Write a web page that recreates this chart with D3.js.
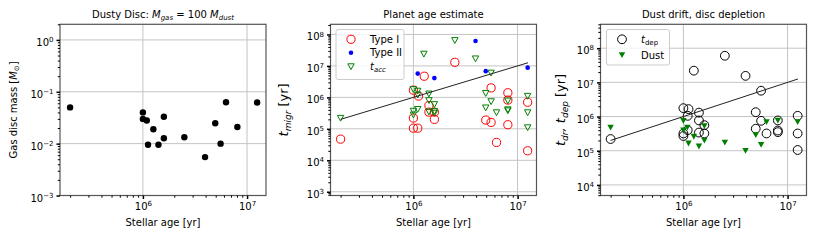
<!DOCTYPE html>
<html>
<head>
<meta charset="utf-8">
<script src="https://cdn.jsdelivr.net/npm/d3@7"></script>
<style>
  body { margin: 0; background: #fff; }
  svg { font-family: "DejaVu Sans", sans-serif; }
</style>
</head>
<body>
<div id="chart"></div>
<script>
// ages of the stars (yr), one per host
var starAge = [2e5, 1e6, 1e6, 1.09e6, 1.12e6, 1.26e6, 1.41e6, 1.59e6, 1.59e6, 2.5e6, 3.95e6, 4.95e6, 5.57e6, 6.28e6, 8.07e6, 1.25e7];
var gasMass = [0.05, 0.04, 0.03, 0.028, 0.0095, 0.019, 0.0095, 0.033, 0.0127, 0.0133, 0.0055, 0.0248, 0.01, 0.063, 0.021, 0.062];

// migration time scales (panel 2)
var typeIAge = [2e5, 1e6, 1e6, 1e6, 1.12e6, 1.1e6, 1.27e6, 1.41e6, 1.41e6, 1.59e6, 1.59e6, 2.5e6, 4.95e6, 5.57e6, 5.57e6, 6.28e6, 8.07e6, 8.07e6, 8.07e6, 1.25e7, 1.25e7];
var typeI = [4.7e4, 1.7e6, 2.2e5, 1.05e5, 1.1e6, 1.05e5, 4.7e6, 5.5e5, 3.4e5, 3.4e5, 2e5, 1.3e7, 1.9e5, 2e6, 1.6e5, 3.7e4, 1.4e6, 8.2e5, 1.35e5, 7e5, 2e4];
var typeIIAge = [1.1e6, 1.59e6, 3.95e6, 4.95e6, 1.25e7];
var typeII = [5.7e6, 4.1e6, 6.2e7, 6.8e6, 8.8e6];
var tAccAge = [2e5, 1e6, 1e6, 1e6, 1.1e6, 1.1e6, 1.1e6, 1.26e6, 1.41e6, 1.41e6, 1.41e6, 1.59e6, 1.59e6, 1.59e6, 2.5e6, 3.95e6, 4.95e6, 4.95e6, 5.57e6, 5.57e6, 6.28e6, 8.07e6, 8.07e6, 8.07e6, 1.25e7, 1.25e7, 1.25e7];
var tAcc = [2.2e5, 1.8e6, 3.7e5, 2.8e5, 1.6e6, 1.2e6, 4.2e5, 2.4e7, 1.3e6, 8e5, 3.5e5, 6e5, 3.6e5, 3.2e5, 6.5e7, 1.7e7, 1.35e6, 4.7e5, 6e6, 7.4e5, 3.3e5, 7.8e5, 4.1e5, 3.8e5, 1.1e6, 3.3e5, 1.1e5];

// depletion and dust drift (panel 3)
var tDepAge = [2e5, 1e6, 1e6, 1e6, 1.12e6, 1.1e6, 1.1e6, 1.26e6, 1.41e6, 1.41e6, 1.41e6, 1.59e6, 1.59e6, 2.5e6, 3.95e6, 4.95e6, 4.95e6, 5.57e6, 5.57e6, 6.28e6, 8.07e6, 8.07e6, 8.07e6, 1.25e7, 1.25e7, 1.25e7];
var tDep = [2.2e5, 1.76e6, 3.2e5, 2.7e5, 1.65e6, 1.05e6, 4e5, 2.2e7, 1.3e6, 7.7e5, 3.4e5, 5.6e5, 3.2e5, 6e7, 1.55e7, 1.34e6, 4.4e5, 5.7e6, 7.5e5, 3.2e5, 7.7e5, 3.9e5, 3.5e5, 1.05e6, 3.2e5, 1.05e5];
var dustDrift = [4.8e5, 7.5e5, 4e5, 4.8e5, 1.65e5, 2.6e5, 1.35e5, 5.3e5, 2e5, 1.75e5, 1e5, 2.9e5, 1.5e5, 7e5, 7.7e5, 7e5];

// one-to-one line
var oneToOne = [2e5, 1.26e7];

var xTicks = [1e6, 1e7];
var yTicks1 = [-3, -2, -1, 0];
var yTicks2 = [3, 4, 5, 6, 7, 8];
var yTicks3 = [4, 5, 6, 7, 8];

var width = 822, height = 240;
var top_y = 24.3, bottom_y = 195.5, pw = 206;

var svg = d3.select("#chart").append("svg")
    .attr("width", width)
    .attr("height", height);

var triDown = "M-3.2,-2.7L3.2,-2.7L0,3.1Z";

function minorTicks(domain) {
    var out = [];
    var lo = Math.floor(Math.log10(domain[0])), hi = Math.ceil(Math.log10(domain[1]));
    for (var e = lo; e <= hi; e++) {
        for (var k = 2; k <= 9; k++) {
            var v = k * Math.pow(10, e);
            if (v >= domain[0] && v <= domain[1]) out.push(v);
        }
    }
    return out;
}

function supLabels(sel) {
    sel.selectAll(".tick text").each(function(d) {
        var t = d3.select(this);
        var e = Math.round(Math.log10(d));
        t.text(null);
        t.append("tspan").text("10");
        t.append("tspan").attr("dy", "-0.55em").attr("font-size", "7px")
            .text(e < 0 ? "\u2212" + (-e) : e);
    });
}

function makePanel(left, yDomain, yTickExp) {
    var g = svg.append("g");
    var x = d3.scaleLog().domain([1.6e5, 1.52e7]).range([left, left + pw]);
    var y = d3.scaleLog().domain(yDomain).range([bottom_y, top_y]);
    var yTickVals = yTickExp.map(function(e) { return Math.pow(10, e); });

    // grid
    g.append("g").selectAll("line.gx").data(xTicks).join("line")
        .attr("x1", x).attr("x2", x).attr("y1", top_y).attr("y2", bottom_y)
        .attr("stroke", "#c4c4c4").attr("stroke-width", 1);
    g.append("g").selectAll("line.gy").data(yTickVals).join("line")
        .attr("x1", left).attr("x2", left + pw).attr("y1", y).attr("y2", y)
        .attr("stroke", "#c4c4c4").attr("stroke-width", 1);

    // frame
    g.append("rect")
        .attr("x", left).attr("y", top_y).attr("width", pw).attr("height", bottom_y - top_y)
        .attr("fill", "none").attr("stroke", "#555").attr("stroke-width", 1.2);

    // minor ticks
    g.append("g").attr("transform", "translate(0," + bottom_y + ")")
        .call(d3.axisBottom(x).tickValues(minorTicks(x.domain())).tickSize(2.2).tickFormat(""))
        .call(function(a) { a.select(".domain").remove(); a.selectAll("line").attr("stroke-width", 1); });
    g.append("g").attr("transform", "translate(" + left + ",0)")
        .call(d3.axisLeft(y).tickValues(minorTicks(y.domain())).tickSize(2.2).tickFormat(""))
        .call(function(a) { a.select(".domain").remove(); a.selectAll("line").attr("stroke-width", 1); });

    // major ticks
    g.append("g").attr("transform", "translate(0," + bottom_y + ")")
        .call(d3.axisBottom(x).tickValues(xTicks).tickSize(3.5).tickPadding(4))
        .call(function(a) {
            a.select(".domain").remove();
            a.selectAll("line").attr("stroke-width", 1.5);
            a.selectAll("text").attr("font-size", "10px").attr("fill", "#000")
                .attr("font-family", "DejaVu Sans");
        })
        .call(supLabels);
    g.append("g").attr("transform", "translate(" + left + ",0)")
        .call(d3.axisLeft(y).tickValues(yTickVals).tickSize(3.5).tickPadding(3))
        .call(function(a) {
            a.select(".domain").remove();
            a.selectAll("line").attr("stroke-width", 1.5);
            a.selectAll("text").attr("font-size", "10px").attr("fill", "#000")
                .attr("font-family", "DejaVu Sans").attr("dy", "0.55em");
        })
        .call(supLabels);

    // x label
    g.append("text")
        .attr("x", left + pw / 2).attr("y", 226)
        .attr("text-anchor", "middle").attr("font-size", "10px")
        .text("Stellar age [yr]");

    return { g: g, x: x, y: y, left: left };
}

// ---------- panel 1 ----------
var p1 = makePanel(60, [1e-3, 2], yTicks1);
p1.g.append("g").selectAll("circle").data(starAge).join("circle")
    .attr("cx", function(d) { return p1.x(d); })
    .attr("cy", function(d, i) { return p1.y(gasMass[i]); })
    .attr("r", 3.2).attr("fill", "#000");

var t1 = p1.g.append("text").attr("x", 60 + pw / 2).attr("y", 17.5)
    .attr("text-anchor", "middle").attr("font-size", "10px");
t1.append("tspan").text("Dusty Disc: ");
t1.append("tspan").attr("font-style", "italic").text("M");
t1.append("tspan").attr("font-style", "italic").attr("font-size", "7px").attr("dy", 2).text("gas");
t1.append("tspan").attr("dy", -2).text(" = 100 ");
t1.append("tspan").attr("font-style", "italic").text("M");
t1.append("tspan").attr("font-style", "italic").attr("font-size", "7px").attr("dy", 2).text("dust");

var yl1 = p1.g.append("text").attr("transform", "translate(16.5," + ((top_y + bottom_y) / 2) + ") rotate(-90)")
    .attr("text-anchor", "middle").attr("font-size", "10px");
yl1.append("tspan").text("Gas disc mass [");
yl1.append("tspan").attr("font-style", "italic").text("M");
yl1.append("tspan").attr("font-size", "7px").attr("dy", 2).text("\u2299");
yl1.append("tspan").attr("dy", -2).text("]");

// ---------- panel 2 ----------
var p2 = makePanel(330.5, [760, 2.1e8], yTicks2);
p2.g.append("g").selectAll("circle").data(typeIAge).join("circle")
    .attr("cx", function(d) { return p2.x(d); })
    .attr("cy", function(d, i) { return p2.y(typeI[i]); })
    .attr("r", 4.1).attr("fill", "none").attr("stroke", "#ff0000").attr("stroke-width", 1);
p2.g.append("g").selectAll("circle").data(typeIIAge).join("circle")
    .attr("cx", function(d) { return p2.x(d); })
    .attr("cy", function(d, i) { return p2.y(typeII[i]); })
    .attr("r", 2.3).attr("fill", "#0000ff");
p2.g.append("g").selectAll("path").data(tAccAge).join("path")
    .attr("transform", function(d, i) { return "translate(" + p2.x(d) + "," + p2.y(tAcc[i]) + ")"; })
    .attr("d", triDown).attr("fill", "none").attr("stroke", "#008000").attr("stroke-width", 1);
p2.g.append("path")
    .datum(oneToOne)
    .attr("d", d3.line().x(function(d) { return p2.x(d); }).y(function(d) { return p2.y(d); }))
    .attr("stroke", "#222").attr("stroke-width", 1).attr("fill", "none");

p2.g.append("text").attr("x", 330.5 + pw / 2).attr("y", 17.5)
    .attr("text-anchor", "middle").attr("font-size", "10px").text("Planet age estimate");

var yl2 = p2.g.append("text").attr("transform", "translate(288," + ((top_y + bottom_y) / 2) + ") rotate(-90)")
    .attr("text-anchor", "middle").attr("font-size", "13px");
yl2.append("tspan").attr("font-style", "italic").text("t");
yl2.append("tspan").attr("font-style", "italic").attr("font-size", "9px").attr("dy", 3).text("migr");
yl2.append("tspan").attr("dy", -3).text(" [yr]");

// legend 2
var lg2 = p2.g.append("g");
lg2.append("rect").attr("x", 336).attr("y", 29.5).attr("width", 68).attr("height", 50).attr("rx", 2)
    .attr("fill", "#fff").attr("fill-opacity", 0.8).attr("stroke", "#ccc").attr("stroke-width", 1);
lg2.append("circle").attr("cx", 351).attr("cy", 39.3).attr("r", 4.1)
    .attr("fill", "none").attr("stroke", "#ff0000");
lg2.append("circle").attr("cx", 351).attr("cy", 52.7).attr("r", 2.3).attr("fill", "#0000ff");
lg2.append("path").attr("transform", "translate(351,66.5)").attr("d", triDown)
    .attr("fill", "none").attr("stroke", "#008000");
lg2.append("text").attr("x", 370).attr("y", 43).attr("font-size", "10px").text("Type I");
lg2.append("text").attr("x", 370).attr("y", 56.4).attr("font-size", "10px").text("Type II");
var la = lg2.append("text").attr("x", 370).attr("y", 70).attr("font-size", "10px");
la.append("tspan").attr("font-style", "italic").text("t");
la.append("tspan").attr("font-style", "italic").attr("font-size", "7px").attr("dy", 2).text("acc");

// ---------- panel 3 ----------
var p3 = makePanel(600.5, [4.9e3, 5e8], yTicks3);
p3.g.append("g").selectAll("circle").data(tDepAge).join("circle")
    .attr("cx", function(d) { return p3.x(d); })
    .attr("cy", function(d, i) { return p3.y(tDep[i]); })
    .attr("r", 4.4).attr("fill", "none").attr("stroke", "#000").attr("stroke-width", 1);
p3.g.append("g").selectAll("path").data(starAge).join("path")
    .attr("transform", function(d, i) { return "translate(" + p3.x(d) + "," + p3.y(dustDrift[i]) + ")"; })
    .attr("d", triDown).attr("fill", "#008000");
p3.g.append("path")
    .datum(oneToOne)
    .attr("d", d3.line().x(function(d) { return p3.x(d); }).y(function(d) { return p3.y(d); }))
    .attr("stroke", "#222").attr("stroke-width", 1).attr("fill", "none");

p3.g.append("text").attr("x", 600.5 + pw / 2).attr("y", 17.5)
    .attr("text-anchor", "middle").attr("font-size", "10px").text("Dust drift, disc depletion");

var yl3 = p3.g.append("text").attr("transform", "translate(565," + ((top_y + bottom_y) / 2) + ") rotate(-90)")
    .attr("text-anchor", "middle").attr("font-size", "13px");
yl3.append("tspan").attr("font-style", "italic").text("t");
yl3.append("tspan").attr("font-style", "italic").attr("font-size", "9px").attr("dy", 3).text("dr");
yl3.append("tspan").attr("dy", -3).attr("font-style", "italic").text(", t");
yl3.append("tspan").attr("font-style", "italic").attr("font-size", "9px").attr("dy", 3).text("dep");
yl3.append("tspan").attr("dy", -3).text(" [yr]");

// legend 3
var lg3 = p3.g.append("g");
lg3.append("rect").attr("x", 606.5).attr("y", 29.5).attr("width", 63).attr("height", 35.5).attr("rx", 2)
    .attr("fill", "#fff").attr("fill-opacity", 0.8).attr("stroke", "#ccc").attr("stroke-width", 1);
lg3.append("circle").attr("cx", 622).attr("cy", 39.3).attr("r", 4.4)
    .attr("fill", "none").attr("stroke", "#000");
lg3.append("path").attr("transform", "translate(622,55)").attr("d", triDown).attr("fill", "#008000");
var ld = lg3.append("text").attr("x", 641).attr("y", 43).attr("font-size", "10px");
ld.append("tspan").attr("font-style", "italic").text("t");
ld.append("tspan").attr("font-size", "7px").attr("dy", 2).text("dep");
lg3.append("text").attr("x", 641).attr("y", 58.7).attr("font-size", "10px").text("Dust");
</script>
</body>
</html>
